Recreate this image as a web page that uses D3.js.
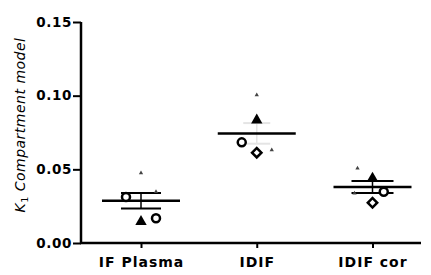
<!DOCTYPE html>
<html><head><meta charset="utf-8">
<script src="https://cdn.jsdelivr.net/npm/d3@7/dist/d3.min.js"></script>
<style>body{margin:0;background:#fff}svg{display:block}</style>
</head><body>
<script>
// ---- data ----
const categories = ["IF Plasma", "IDIF", "IDIF cor"];
const yTicks = [0, 0.05, 0.10, 0.15];
const yTickLabels = ["0.00", "0.05", "0.10", "0.15"];
// individual subject values per group
const valuesIFPlasma = [0.0312, 0.0145, 0.0168, 0.0475, 0.0348];
const valuesIDIF     = [0.0683, 0.0834, 0.0613, 0.1004, 0.0631];
const valuesIDIFcor  = [0.0348, 0.0439, 0.0273, 0.0507, 0.0337];
// marker shape of each value
const shapesIFPlasma = ["circle", "triangle", "circle", "small", "small"];
const shapesIDIF     = ["circle", "triangle", "diamond", "small", "small"];
const shapesIDIFcor  = ["circle", "triangle", "diamond", "small", "small"];
// jitter slot of each value (-1 left, 0 centre, 1 right)
const slotsIFPlasma = [-1, 0, 1, 0, 1];
const slotsIDIF     = [-1, 0, 0, 0, 1];
const slotsIDIFcor  = [0.75, 0, 0, -1, -1.2];
const means = [0.0287, 0.0744, 0.0380];
const sems  = [0.0052, 0.0070, 0.0041];

// ---- layout ----
const W = 431, H = 275;
const svg = d3.select("body").append("svg").attr("width", W).attr("height", H);
const y = d3.scaleLinear().domain([0, 0.15]).range([243, 22]);
const x = d3.scalePoint().domain(categories).range([141, 372.5]);
const jitter = d3.scaleLinear().domain([-1, 1]).range([-15, 15]);

const groups = [
  {cat: categories[0], vals: valuesIFPlasma, shapes: shapesIFPlasma, slots: slotsIFPlasma, mean: means[0], sem: sems[0], cap: 40, capColor: "#000"},
  {cat: categories[1], vals: valuesIDIF, shapes: shapesIDIF, slots: slotsIDIF, mean: means[1], sem: sems[1], cap: 27, capColor: "#e4e4e4"},
  {cat: categories[2], vals: valuesIDIFcor, shapes: shapesIDIFcor, slots: slotsIDIFcor, mean: means[2], sem: sems[2], cap: 42, capColor: "#000"}
];

// axes
const yAxis = d3.axisLeft(y).tickValues(yTicks).tickFormat((d, i) => yTickLabels[i]).tickSize(8).tickPadding(1);
const gy = svg.append("g").attr("transform", "translate(81,0)").call(yAxis);
gy.select(".domain").attr("stroke-width", 2.5).attr("d", "M0,243V22");
gy.selectAll(".tick line").attr("stroke-width", 2);
gy.selectAll("text").attr("font-family", "DejaVu Sans").attr("font-weight", "bold")
  .attr("font-size", 13.5).attr("letter-spacing", "0.6px").attr("fill", "#000");

const xAxis = d3.axisBottom(x).tickSize(5).tickPadding(9);
const gx = svg.append("g").attr("transform", "translate(0,243)").call(xAxis);
gx.select(".domain").attr("stroke-width", 2.5).attr("d", "M80,0H421");
gx.selectAll(".tick line").attr("stroke-width", 2);
gx.selectAll("text").attr("font-family", "DejaVu Sans").attr("font-weight", "bold")
  .attr("font-size", 14).attr("letter-spacing", "1px").attr("fill", "#000");

// y label
const yl = svg.append("text").attr("transform", "translate(25,125) rotate(-90)")
  .attr("text-anchor", "middle").attr("font-family", "DejaVu Sans").attr("font-size", 14)
  .attr("font-style", "italic").attr("letter-spacing", "0.5px").attr("fill", "#000");
yl.append("tspan").text("K");
yl.append("tspan").attr("font-size", 9.5).attr("dy", 3).attr("font-style", "normal").text("1");
yl.append("tspan").attr("dy", -3).text(" Compartment model");

// groups
groups.forEach(g => {
  const cx = x(g.cat);
  const gg = svg.append("g");
  // error bars
  gg.append("line").attr("x1", cx).attr("x2", cx).attr("y1", y(g.mean + g.sem)).attr("y2", y(g.mean - g.sem))
    .attr("stroke", g.capColor).attr("stroke-width", 1.5);
  [g.mean + g.sem, g.mean - g.sem].forEach(v => {
    gg.append("line").attr("x1", cx - g.cap / 2).attr("x2", cx + g.cap / 2).attr("y1", y(v)).attr("y2", y(v))
      .attr("stroke", g.capColor).attr("stroke-width", 2);
  });
  // mean
  gg.append("line").attr("x1", cx - 39).attr("x2", cx + 39).attr("y1", y(g.mean)).attr("y2", y(g.mean))
    .attr("stroke", "#000").attr("stroke-width", 2.5);
  // points
  g.vals.forEach((v, i) => {
    const px = cx + jitter(g.slots[i]), py = y(v);
    const s = g.shapes[i];
    if (s === "circle") {
      gg.append("circle").attr("cx", px).attr("cy", py).attr("r", 4)
        .attr("fill", "#fff").attr("stroke", "#000").attr("stroke-width", 2.5);
    } else if (s === "triangle") {
      gg.append("path").attr("d", d3.symbol(d3.symbolTriangle, 56)()).attr("transform", `translate(${px},${py})`)
        .attr("fill", "#000");
    } else if (s === "diamond") {
      gg.append("path").attr("d", d3.symbol(d3.symbolSquare, 44)()).attr("transform", `translate(${px},${py}) rotate(45)`)
        .attr("fill", "#fff").attr("stroke", "#000").attr("stroke-width", 2.5);
    } else {
      gg.append("path").attr("d", d3.symbol(d3.symbolTriangle, 8)()).attr("transform", `translate(${px},${py})`)
        .attr("fill", "#444");
    }
  });
});
</script>
</body></html>
